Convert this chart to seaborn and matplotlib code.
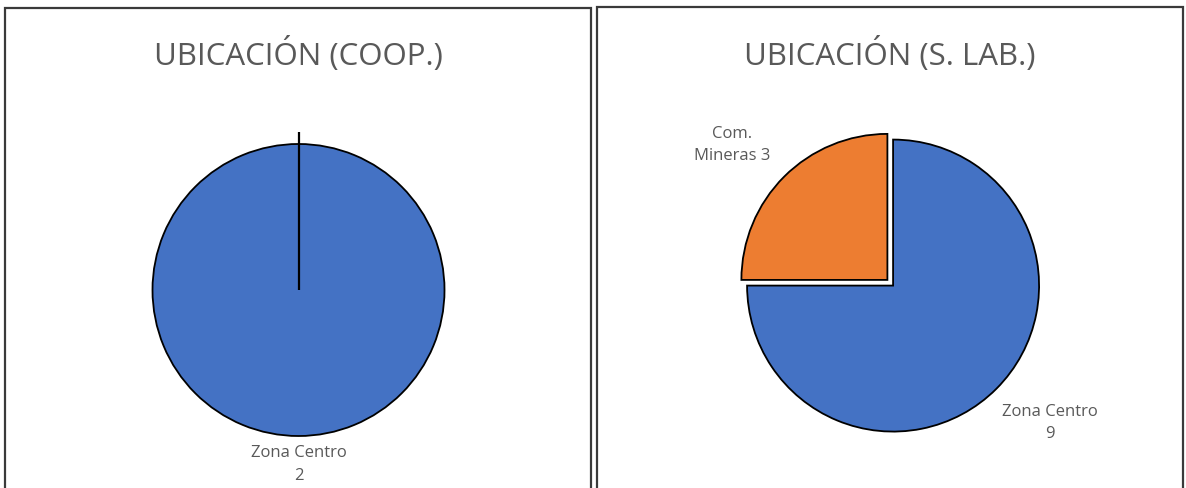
import matplotlib
matplotlib.use("Agg")
import matplotlib.pyplot as plt
from matplotlib.patches import Rectangle
import seaborn as sns

# ---- data ----
coop_categories = ["Zona Centro"]
coop_values = [2]
slab_categories = ["Zona Centro", "Com.\nMineras"]
slab_values = [9, 3]
slab_label_seps = ["\n", " "]
titles = ["UBICACIÓN (COOP.)", "UBICACIÓN (S. LAB.)"]
colors = ["#4472C4", "#ED7D31"]

sns.set_theme(style="white")
plt.rcParams["font.family"] = ["Open Sans", "DejaVu Sans"]
TXT = "#595959"

W, H = 1186, 488
fig = plt.figure(figsize=(W / 100, H / 100), dpi=100)
fig.patch.set_facecolor("white")

# panel frames
for (x0, x1, ytop) in [(5, 591, 8), (597, 1183, 7)]:
    r = Rectangle((x0 / W, -0.1), (x1 - x0) / W, (1 - ytop / H) + 0.1,
                  transform=fig.transFigure, fill=False,
                  edgecolor="#3a3a3a", linewidth=1.6, zorder=0)
    fig.patches.append(r)

# titles
fig.text(298 / W, 1 - 55 / H, titles[0], ha="center", va="center",
         fontsize=22.5, color=TXT)
fig.text(890 / W, 1 - 55 / H, titles[1], ha="center", va="center",
         fontsize=22.5, color=TXT)

R = 146.0
K = 1.25


def make_ax(cx, cy):
    half = R * K
    ax = fig.add_axes([(cx - half) / W, (H - cy - half) / H,
                       2 * half / W, 2 * half / H])
    ax.set_xlim(-K, K)
    ax.set_ylim(-K, K)
    ax.set_aspect("equal")
    ax.axis("off")
    return ax


wedge_kw = dict(edgecolor="black", linewidth=1.3)
text_kw = dict(fontsize=12, color=TXT, linespacing=1.55)

# left pie
ax1 = make_ax(298.5, 290)
labels1 = [f"{c}\n{v}" for c, v in zip(coop_categories, coop_values)]
w1, t1 = ax1.pie(coop_values, labels=labels1, colors=colors[:1],
                 startangle=90, counterclock=False, labeldistance=1.195,
                 wedgeprops=wedge_kw, textprops=text_kw)
for t in t1:
    t.set_ha("center")
    t.set_multialignment("center")
ax1.vlines(0, 0, 1.08, color="black", linewidth=1.6, zorder=5)

# right pie
ax2 = make_ax(890.5, 283)
labels2 = [f"{c}{s}{v}" for c, s, v in zip(slab_categories, slab_label_seps, slab_values)]
w2, t2 = ax2.pie(slab_values, labels=labels2, colors=colors,
                 startangle=90, counterclock=False, labeldistance=1.44,
                 explode=[0.025, 0.03],
                 wedgeprops=wedge_kw, textprops=text_kw)
label_pos = [(1.092, -0.959), (-1.086, 0.945)]
for t, p in zip(t2, label_pos):
    t.set_ha("center")
    t.set_multialignment("center")
    t.set_position(p)

fig.savefig("out.png", dpi=100, facecolor="white")
